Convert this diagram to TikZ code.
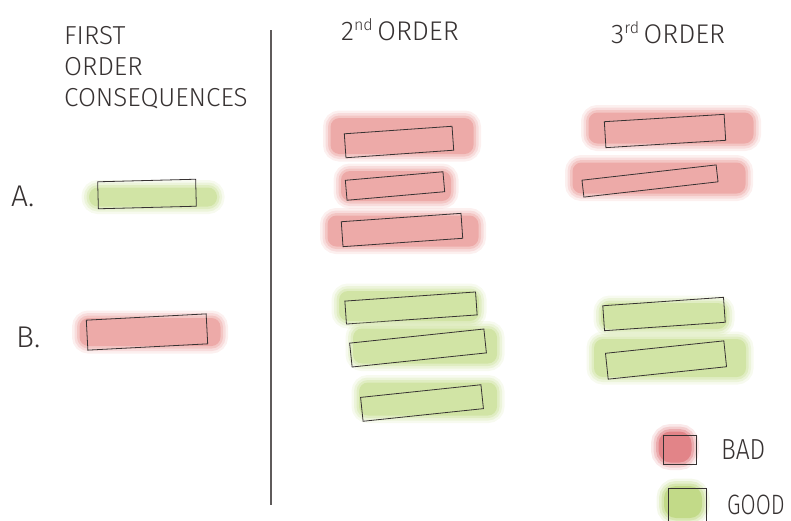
\documentclass[tikz,border=0pt]{standalone}
\usepackage{fontspec}
\setmainfont{Fira Sans Light}
\usetikzlibrary{positioning}
\definecolor{badred}{RGB}{237,170,168}
\definecolor{goodgreen}{RGB}{209,228,165}
\definecolor{keyred}{RGB}{226,132,136}
\definecolor{keygreen}{RGB}{194,218,136}
\definecolor{ink}{RGB}{55,50,50}
\tikzset{
  hand/.style={font=\fontsize{26}{31}\selectfont, text=ink, inner sep=0pt},
  glow/.style={rectangle, rounded corners=9pt, fill=#1, draw=none, inner sep=0pt,
    preaction={draw=#1, draw opacity=0.18, line width=15pt},
    preaction={draw=#1, draw opacity=0.28, line width=10pt},
    preaction={draw=#1, draw opacity=0.45, line width=5pt}},
  bar/.style={rectangle, draw=ink, line width=0.8pt, inner sep=0pt},
}
\begin{document}
\begin{tikzpicture}[x=1pt, y=-1pt]
    \useasboundingbox (0,0) rectangle (791,520);
    % headings
    \node[hand, align=left, anchor=north west] (first) at (64,26)
        {FIRST\\ORDER\\CONSEQUENCES};
    \node[hand, font=\fontsize{27}{27}\selectfont, anchor=base west] (second) at (341,40)
        {2\raisebox{10pt}{\fontsize{16}{16}\selectfont nd}\,ORDER};
    \node[hand, font=\fontsize{27}{27}\selectfont, anchor=base west] (third) at (611,43)
        {3\raisebox{10pt}{\fontsize{16}{16}\selectfont rd}\,ORDER};
    \draw[draw=ink!80, line width=1.1pt] (271,30) -- (271,505);
    % first order
    \node[hand, font=\fontsize{30}{30}\selectfont, anchor=base west] (labA) at (11,206) {A.};
    \node[hand, font=\fontsize{30}{30}\selectfont, anchor=base west] (labB) at (16,347) {B.};
    \node[glow=goodgreen, minimum width=128pt, minimum height=19pt] (ag) at (153,197) {};
    \node[bar, minimum width=98pt, minimum height=27pt, rotate=1.5] (a) at (147,194) {};
    \node[glow=badred, minimum width=141pt, minimum height=28pt] (bg) at (150,332) {};
    \node[bar, minimum width=120pt, minimum height=30pt, rotate=3] (b) at (147,332) {};
    % second order, bad
    \node[glow=badred, minimum width=143pt, minimum height=36pt] (r2ag) at (402,136) {};
    \node[bar, minimum width=108pt, minimum height=24pt, rotate=4] (r2a) at (399,142) {};
    \node[glow=badred, minimum width=110pt, minimum height=30pt] (r2bg) at (396,186) {};
    \node[bar, minimum width=98pt, minimum height=20pt, rotate=5] (r2b) at (395,186) {};
    \node[glow=badred, minimum width=151pt, minimum height=31pt] (r2cg) at (403,231) {};
    \node[bar, minimum width=120pt, minimum height=25pt, rotate=4] (r2c) at (402,230) {};
    % third order, bad
    \node[glow=badred, minimum width=165pt, minimum height=31pt] (r3ag) at (671,128) {};
    \node[bar, minimum width=120pt, minimum height=26pt, rotate=3.5] (r3a) at (665,131) {};
    \node[glow=badred, minimum width=173pt, minimum height=31pt] (r3bg) at (659,178) {};
    \node[bar, minimum width=135pt, minimum height=17pt, rotate=6.5] (r3b) at (650,181) {};
    % second order, good
    \node[glow=goodgreen, minimum width=140pt, minimum height=30pt] (g2ag) at (409,306) {};
    \node[bar, minimum width=131pt, minimum height=23pt, rotate=4] (g2a) at (411,308) {};
    \node[glow=goodgreen, minimum width=144pt, minimum height=35pt] (g2bg) at (425,346) {};
    \node[bar, minimum width=135pt, minimum height=24pt, rotate=6] (g2b) at (418,348) {};
    \node[glow=goodgreen, minimum width=138pt, minimum height=33pt] (g2cg) at (428,399) {};
    \node[bar, minimum width=121pt, minimum height=24pt, rotate=6] (g2c) at (422,403) {};
    % third order, good
    \node[glow=goodgreen, minimum width=126pt, minimum height=26pt] (g3ag) at (664,316) {};
    \node[bar, minimum width=121pt, minimum height=25pt, rotate=4] (g3a) at (664,314) {};
    \node[glow=goodgreen, minimum width=152pt, minimum height=38pt] (g3bg) at (670,358) {};
    \node[bar, minimum width=119pt, minimum height=26pt, rotate=6] (g3b) at (666,360) {};
    % legend
    \node[glow=keyred, rounded corners=12pt, minimum width=33pt, minimum height=31pt] (badkeyg) at (675,447) {};
    \node[bar, minimum width=33pt, minimum height=29pt] (badkey) at (680,450) {};
    \node[hand, font=\fontsize{29}{29}\selectfont, right=24pt of badkey] (bad)
        {\scalebox{0.85}[1]{BAD}};
    \node[glow=keygreen, rounded corners=12pt, minimum width=38pt, minimum height=32pt] (goodkeyg) at (683,502) {};
    \node[bar, minimum width=38pt, minimum height=36pt] (goodkey) at (687,506) {};
    \node[hand, font=\fontsize{28}{28}\selectfont, anchor=base west] (good) at (727,514)
        {\scalebox{0.78}[1]{GOOD}};
\end{tikzpicture}
\end{document}
